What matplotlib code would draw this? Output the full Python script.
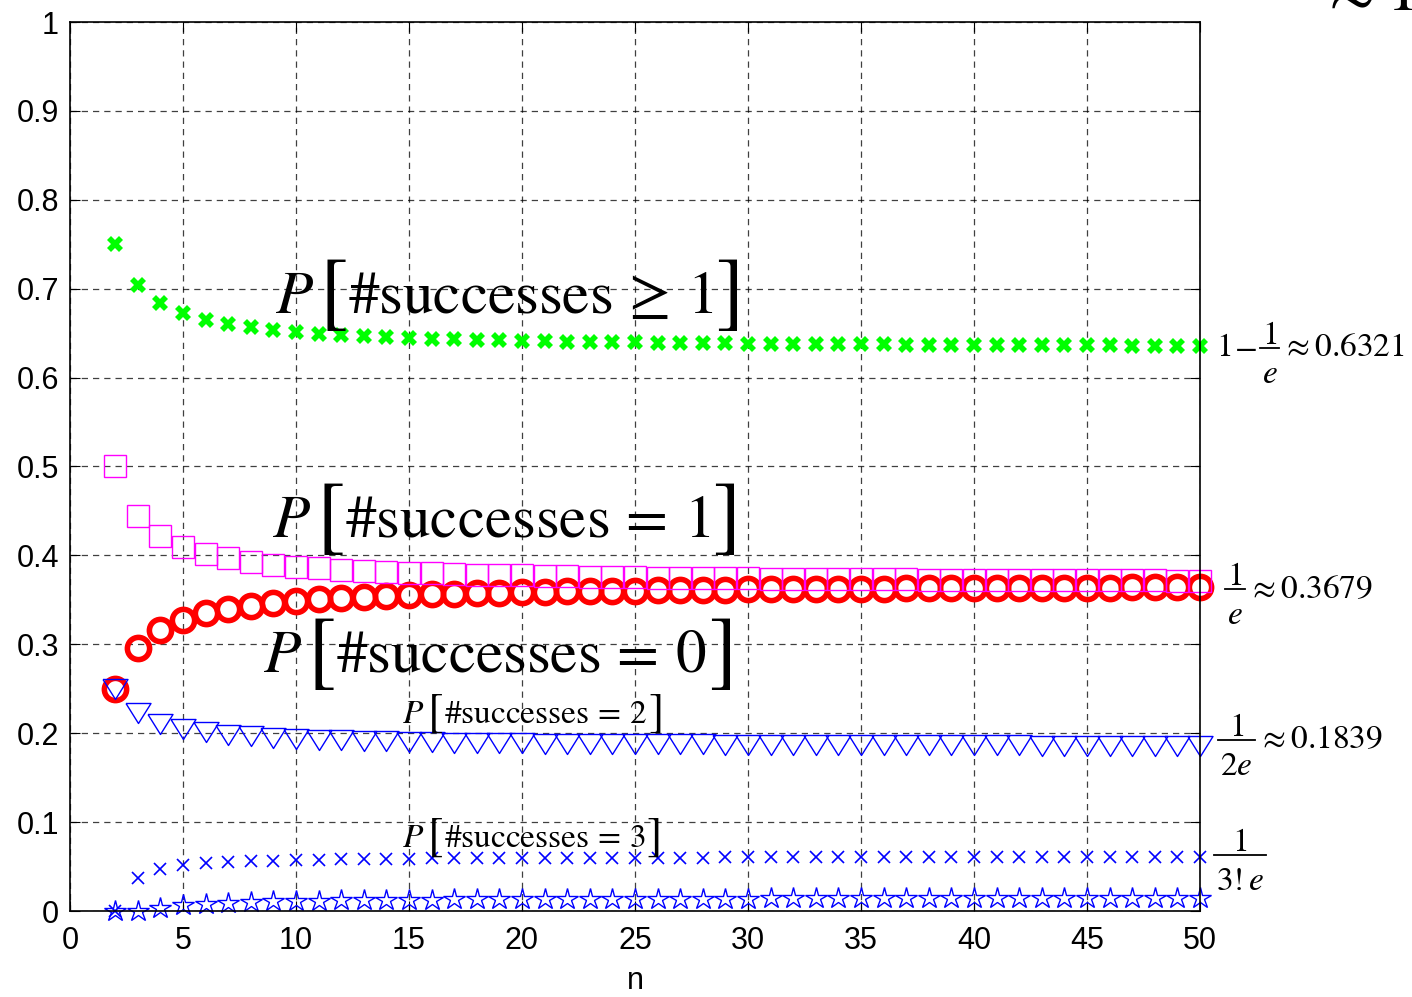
import numpy as np
import matplotlib
matplotlib.use("Agg")
import matplotlib.pyplot as plt
from matplotlib import transforms
from matplotlib.lines import Line2D

plt.rcParams['font.family'] = ['Liberation Sans', 'DejaVu Sans']
plt.rcParams['mathtext.fontset'] = 'stix'

# n = 2..50
n = list(range(2, 51))

# P[#successes = 0]
p0 = [.2500, .2963, .3164, .3277, .3349, .3399, .3436, .3464, .3487, .3505,
      .3520, .3533, .3543, .3553, .3561, .3568, .3574, .3580, .3585, .3589,
      .3594, .3597, .3601, .3604, .3607, .3610, .3612, .3614, .3617, .3619,
      .3621, .3622, .3624, .3626, .3627, .3629, .3630, .3631, .3632, .3633,
      .3635, .3636, .3637, .3638, .3638, .3639, .3640, .3641, .3642]
# P[#successes >= 1]
p_ge1 = [.7500, .7037, .6836, .6723, .6651, .6601, .6564, .6536, .6513, .6495,
         .6480, .6467, .6457, .6447, .6439, .6432, .6426, .6420, .6415, .6411,
         .6406, .6403, .6399, .6396, .6393, .6390, .6388, .6386, .6383, .6381,
         .6379, .6378, .6376, .6374, .6373, .6371, .6370, .6369, .6368, .6367,
         .6365, .6364, .6363, .6362, .6362, .6361, .6360, .6359, .6358]
# P[#successes = 1]
p1 = [.5000, .4444, .4219, .4096, .4019, .3966, .3927, .3897, .3874, .3855,
      .3840, .3827, .3816, .3806, .3798, .3791, .3784, .3779, .3774, .3769,
      .3765, .3761, .3757, .3754, .3751, .3748, .3746, .3744, .3741, .3739,
      .3737, .3736, .3734, .3732, .3731, .3729, .3728, .3727, .3726, .3724,
      .3723, .3722, .3721, .3720, .3719, .3718, .3718, .3717, .3716]
# P[#successes = 2]
p2 = [.2500, .2222, .2109, .2048, .2009, .1983, .1964, .1949, .1937, .1928,
      .1920, .1914, .1908, .1903, .1899, .1895, .1892, .1889, .1887, .1884,
      .1882, .1880, .1879, .1877, .1876, .1874, .1873, .1872, .1871, .1870,
      .1869, .1868, .1867, .1866, .1865, .1865, .1864, .1863, .1863, .1862,
      .1862, .1861, .1861, .1860, .1860, .1859, .1859, .1858, .1858]
# P[#successes = 3]
p3 = [.0000, .0370, .0469, .0512, .0536, .0551, .0561, .0568, .0574, .0578,
      .0582, .0585, .0587, .0589, .0591, .0592, .0594, .0595, .0596, .0597,
      .0598, .0598, .0599, .0600, .0600, .0601, .0601, .0602, .0602, .0602,
      .0603, .0603, .0603, .0604, .0604, .0604, .0605, .0605, .0605, .0605,
      .0605, .0606, .0606, .0606, .0606, .0606, .0606, .0606, .0607]
# P[#successes = 4]
p4 = [.0000, .0000, .0039, .0064, .0080, .0092, .0100, .0107, .0112, .0116,
      .0119, .0122, .0124, .0126, .0128, .0130, .0131, .0132, .0133, .0134,
      .0135, .0136, .0137, .0137, .0138, .0139, .0139, .0140, .0140, .0141,
      .0141, .0141, .0142, .0142, .0142, .0143, .0143, .0143, .0143, .0144,
      .0144, .0144, .0144, .0145, .0145, .0145, .0145, .0145, .0145]

fig = plt.figure(figsize=(14.12, 9.97), dpi=100)
ax = fig.add_axes([70/1412, 86/997, 1130/1412, 889/997])

tri = [(-1, 0.8), (1, 0.8), (0, -0.8), (-1, 0.8)]  # wide downward triangle

ax.plot(n, p_ge1, ls='none', marker='X', ms=11, color=(0, 1, 0), mew=0, clip_on=False)
ax.plot(n, p0, ls='none', marker='o', ms=16, mfc='none', mec='red', mew=4, clip_on=False)
ax.plot(n, p1, ls='none', marker='s', ms=16, mfc='none', mec='magenta', mew=1, clip_on=False)
ax.plot(n, p2, ls='none', marker=tri, ms=18, mfc='none', mec='blue', mew=1, clip_on=False)
ax.plot(n, p3, ls='none', marker='x', ms=9, color='blue', mew=1.2, clip_on=False)
ax.plot(n, p4, ls='none', marker='*', ms=16, mfc='none', mec='blue', mew=1, clip_on=False)

ax.set_xlim(0, 50)
ax.set_ylim(0, 1)
ax.set_xticks(range(0, 51, 5))
ax.set_yticks(np.arange(0, 1.01, 0.1))
ax.set_yticklabels(['0', '0.1', '0.2', '0.3', '0.4', '0.5', '0.6', '0.7', '0.8', '0.9', '1'])
ax.tick_params(direction='in', length=7, labelsize=22, top=True, right=True)
ax.tick_params(axis='x', pad=11)
ax.tick_params(axis='y', pad=8)
ax.grid(True, color='black', ls=(0, (5, 4)), lw=0.9, alpha=0.75)
for s in ax.spines.values():
    s.set_linewidth(1.2)
ax.set_xlabel('n', fontsize=22, labelpad=7)

renderer = fig.canvas.get_renderer()


def put(x0, y0, dx, dy, s, fs, ha='left'):
    tr = transforms.offset_copy(ax.transData, fig=fig, x=dx, y=dy, units='dots')
    return ax.text(x0, y0, s, fontsize=fs, transform=tr, ha=ha, va='baseline',
                   clip_on=False)


def width(t):
    return t.get_window_extent(renderer).width


def measure(s, fs):
    t = ax.text(0, 0, s, fontsize=fs)
    w = width(t)
    t.remove()
    return w


def row(x0, y0, items):
    # pieces laid out left to right from (x0, y0) = left end of the baseline
    px, py = ax.transData.transform((x0, y0))
    dx = 0
    for it in items:
        if it[0] == 't':
            _, s, fs, dy, gap = it
            dx += width(put(x0, y0, dx, dy, s, fs)) + gap
        else:
            _, num, den, fs, gap = it
            em = fs * 100 / 72
            bar = 0.26 * em
            w = max(measure(num, fs), measure(den, fs)) + 0.12 * em
            put(x0, y0, dx + w / 2, bar + 0.12 * em, num, fs, ha='center')
            put(x0, y0, dx + w / 2, bar - 1.05 * em, den, fs, ha='center')
            ln = Line2D([px + dx, px + dx + w], [py + bar, py + bar], color='black',
                        lw=1.3, transform=None, clip_on=False)
            ln.set_figure(fig)
            fig.lines.append(ln)
            dx += w + gap


def plabel(x0, y0, body, fs):
    em = fs * 100 / 72
    row(x0, y0, [('t', r'$P$', fs, 0, 0.08 * em),
                 ('t', r'$[$', fs * 1.4, -0.07 * em, 0.03 * em),
                 ('t', body, fs, 0, 0.03 * em),
                 ('t', r'$]$', fs * 1.4, -0.07 * em, 0)])


plabel(9.07, 0.673, r'$\#\mathrm{successes}\,\geq\,1$', 44)
plabel(8.94, 0.421, r'$\#\mathrm{successes}\,=\,1$', 44)
plabel(8.54, 0.269, r'$\#\mathrm{successes}\,=\,0$', 44)
plabel(14.7, 0.211, r'$\#\mathrm{successes}\,=\,2$', 24)
plabel(14.7, 0.072, r'$\#\mathrm{successes}\,=\,3$', 24)

rl = 24
row(50.7, 0.624, [('t', r'$1$', rl, 0, 3), ('t', r'$-$', rl, 0, 3),
                  ('f', r'$1$', r'$e$', rl, 3), ('t', r'$\approx 0.6321$', rl, 0, 0)])
row(51.1, 0.352, [('f', r'$1$', r'$e$', rl, 3), ('t', r'$\approx 0.3679$', rl, 0, 0)])
row(50.8, 0.183, [('f', r'$1$', r'$2e$', rl, 3), ('t', r'$\approx 0.1839$', rl, 0, 0)])
row(50.6, 0.053, [('f', r'$1$', r'$3!e$', rl, 0)])

fig.text(1318/1412, 1 - 10/997, r'$\approx 1\,6$', fontsize=50, va='baseline')

fig.savefig('out.png', dpi=100)
